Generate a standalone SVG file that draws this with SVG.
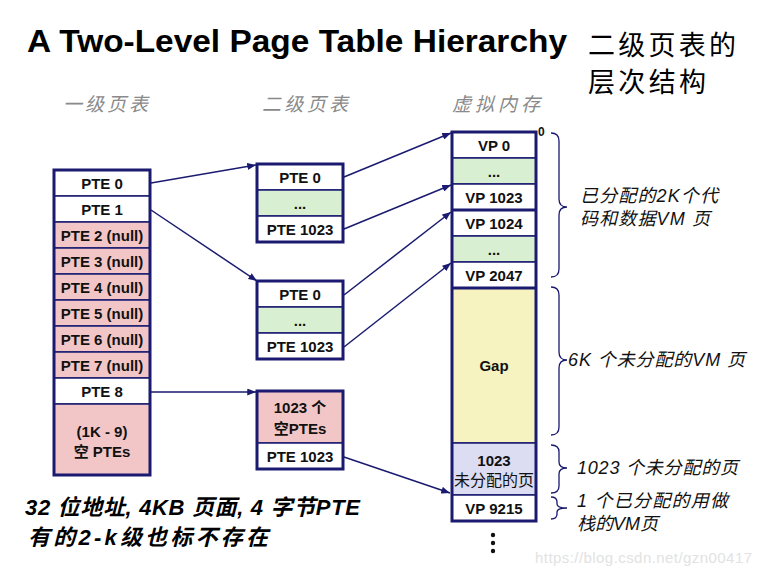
<svg xmlns="http://www.w3.org/2000/svg" width="760" height="576" viewBox="0 0 760 576">
<defs>
<marker id="ah" viewBox="0 0 10 8" refX="10" refY="4" markerWidth="9" markerHeight="7" markerUnits="userSpaceOnUse" orient="auto">
<path d="M0,0 L10,4 L0,8 Z" fill="#1a1a70"/>
</marker>
<style>
.cell{stroke:#1a1a70;stroke-width:1.5}
.outer{fill:none;stroke:#1a1a70;stroke-width:3}
.w{fill:#ffffff}
.pk{fill:#f2c6c6}
.gr{fill:#d8efd2}
.yl{fill:#f6f3c0}
.lv{fill:#dcdcf2}
.lab{font-family:"Liberation Sans","Noto Sans CJK SC",sans-serif;font-weight:bold;font-size:15px;fill:#111;text-anchor:middle}
.hdr{font-family:"Noto Sans CJK SC",sans-serif;font-style:italic;font-size:19px;fill:#8a8a8a}
.note{font-family:"Liberation Sans","Noto Sans CJK SC",sans-serif;font-style:italic;font-size:18px;fill:#111}
.conn{fill:none;stroke:#1a1a70;stroke-width:1.5;marker-end:url(#ah)}
.brace{fill:none;stroke:#1a1a70;stroke-width:1.3}
.foot{font-family:"Liberation Sans","Noto Sans CJK SC",sans-serif;font-weight:bold;font-style:italic;font-size:22px;fill:#000}
</style>
</defs>
<rect width="760" height="576" fill="#ffffff"/>

<text x="27" y="52" font-family="Liberation Sans, sans-serif" font-weight="bold" font-size="31" fill="#000" textLength="540" lengthAdjust="spacingAndGlyphs">A Two-Level Page Table Hierarchy</text>
<text x="588" y="55" font-family="Noto Sans CJK SC, sans-serif" font-size="27" fill="#000" textLength="148">二级页表的</text>
<text x="588" y="92" font-family="Noto Sans CJK SC, sans-serif" font-size="27" fill="#000" textLength="118">层次结构</text>

<text class="hdr" x="63" y="111" textLength="85">一级页表</text>
<text class="hdr" x="262" y="111" textLength="86">二级页表</text>
<text class="hdr" x="452" y="111" textLength="88">虚拟内存</text>

<g id="level1">
<rect class="cell w" x="54" y="170" width="96" height="26"/>
<rect class="cell w" x="54" y="196" width="96" height="26"/>
<rect class="cell pk" x="54" y="222" width="96" height="26"/>
<rect class="cell pk" x="54" y="248" width="96" height="26"/>
<rect class="cell pk" x="54" y="274" width="96" height="26"/>
<rect class="cell pk" x="54" y="300" width="96" height="26"/>
<rect class="cell pk" x="54" y="326" width="96" height="26"/>
<rect class="cell pk" x="54" y="352" width="96" height="26"/>
<rect class="cell w" x="54" y="378" width="96" height="26"/>
<rect class="cell pk" x="54" y="404" width="96" height="71"/>
<rect class="outer" x="54" y="170" width="96" height="305"/>
<text class="lab" x="102" y="189">PTE 0</text>
<text class="lab" x="102" y="215">PTE 1</text>
<text class="lab" x="102" y="241">PTE 2 (null)</text>
<text class="lab" x="102" y="267">PTE 3 (null)</text>
<text class="lab" x="102" y="293">PTE 4 (null)</text>
<text class="lab" x="102" y="319">PTE 5 (null)</text>
<text class="lab" x="102" y="345">PTE 6 (null)</text>
<text class="lab" x="102" y="371">PTE 7 (null)</text>
<text class="lab" x="102" y="397">PTE 8</text>
<text class="lab" x="102" y="437">(1K - 9)</text>
<text class="lab" x="102" y="457">空 PTEs</text>
</g>

<g id="level2a">
<rect class="cell w" x="257" y="164" width="86" height="26"/>
<rect class="cell gr" x="257" y="190" width="86" height="26"/>
<rect class="cell w" x="257" y="216" width="86" height="26"/>
<rect class="outer" x="257" y="164" width="86" height="78"/>
<text class="lab" x="300" y="183">PTE 0</text>
<text class="lab" x="300" y="209">...</text>
<text class="lab" x="300" y="235">PTE 1023</text>
</g>

<g id="level2b">
<rect class="cell w" x="257" y="281" width="86" height="26"/>
<rect class="cell gr" x="257" y="307" width="86" height="26"/>
<rect class="cell w" x="257" y="333" width="86" height="26"/>
<rect class="outer" x="257" y="281" width="86" height="78"/>
<text class="lab" x="300" y="300">PTE 0</text>
<text class="lab" x="300" y="326">...</text>
<text class="lab" x="300" y="352">PTE 1023</text>
</g>

<g id="level2c">
<rect class="cell pk" x="257" y="391" width="86" height="52"/>
<rect class="cell w" x="257" y="443" width="86" height="26"/>
<rect class="outer" x="257" y="391" width="86" height="78"/>
<text class="lab" x="300" y="413">1023 个</text>
<text class="lab" x="300" y="434">空PTEs</text>
<text class="lab" x="300" y="462">PTE 1023</text>
</g>

<g id="vm">
<rect class="cell w" x="452" y="132" width="84" height="26"/>
<rect class="cell gr" x="452" y="158" width="84" height="26"/>
<rect class="cell w" x="452" y="184" width="84" height="26"/>
<rect class="cell w" x="452" y="210" width="84" height="26"/>
<rect class="cell gr" x="452" y="236" width="84" height="26"/>
<rect class="cell w" x="452" y="262" width="84" height="26"/>
<rect class="cell yl" x="452" y="288" width="84" height="155"/>
<rect class="cell lv" x="452" y="443" width="84" height="52"/>
<rect class="cell w" x="452" y="495" width="84" height="26"/>
<rect class="outer" x="452" y="132" width="84" height="389"/>
<line x1="452" y1="210" x2="536" y2="210" stroke="#1a1a70" stroke-width="3"/>
<line x1="452" y1="288" x2="536" y2="288" stroke="#1a1a70" stroke-width="3"/>
<text class="lab" x="494" y="151">VP 0</text>
<text class="lab" x="494" y="177">...</text>
<text class="lab" x="494" y="203">VP 1023</text>
<text class="lab" x="494" y="229">VP 1024</text>
<text class="lab" x="494" y="255">...</text>
<text class="lab" x="494" y="281">VP 2047</text>
<text class="lab" x="494" y="371">Gap</text>
<text class="lab" x="494" y="466">1023</text>
<text class="lab" x="494" y="486" style="font-weight:normal;font-size:16px">未分配的页</text>
<text class="lab" x="494" y="514">VP 9215</text>
<text x="538" y="136" font-family="Liberation Sans, sans-serif" font-weight="bold" font-size="12" fill="#111">0</text>
<circle cx="493" cy="535" r="2.2" fill="#111"/>
<circle cx="493" cy="543" r="2.2" fill="#111"/>
<circle cx="493" cy="551" r="2.2" fill="#111"/>
</g>

<g id="braces">
<path class="brace" d="M551,133 Q559,133 559,141 L559,199 Q559,207 567,207 Q559,207 559,215 L559,269 Q559,277 551,277"/>
<path class="brace" d="M551,287 Q559,287 559,295 L559,352 Q559,360 567,360 Q559,360 559,368 L559,427 Q559,435 551,435"/>
<path class="brace" d="M551,445 Q559,445 559,452 L559,462 Q559,468 567,468 Q559,468 559,474 L559,486 Q559,493 551,493"/>
<path class="brace" d="M551,497 Q557,497 557,502 L557,504 Q557,508 567,508 Q557,508 557,512 L557,514 Q557,519 551,519"/>
</g>

<g id="notes">
<text class="note" x="580" y="202" textLength="138">已分配的2K个代</text>
<text class="note" x="580" y="225" textLength="130">码和数据VM 页</text>
<text class="note" x="568" y="366" textLength="177">6K 个未分配的VM 页</text>
<text class="note" x="577" y="474" textLength="161">1023 个未分配的页</text>
<text class="note" x="577" y="507" textLength="151">1 个已分配的用做</text>
<text class="note" x="577" y="530">栈的VM页</text>
</g>

<g id="connectors">
<line class="conn" x1="151" y1="183" x2="256" y2="165"/>
<line class="conn" x1="151" y1="210" x2="257" y2="281"/>
<line class="conn" x1="151" y1="392" x2="256" y2="392"/>
<line class="conn" x1="344" y1="177" x2="451" y2="133"/>
<line class="conn" x1="344" y1="229" x2="451" y2="185"/>
<line class="conn" x1="344" y1="295" x2="451" y2="212"/>
<line class="conn" x1="344" y1="347" x2="451" y2="263"/>
<line class="conn" x1="344" y1="457" x2="450" y2="493"/>
</g>

<text class="foot" x="25" y="515" textLength="335">32 位地址, 4KB 页面, 4 字节PTE</text>
<text class="foot" x="28" y="545" textLength="240">有的2-k级也标不存在</text>

<text x="535" y="563" font-family="Liberation Sans, sans-serif" font-size="15" fill="#e2e2e2" textLength="217">https://blog.csdn.net/gzn00417</text>
</svg>
